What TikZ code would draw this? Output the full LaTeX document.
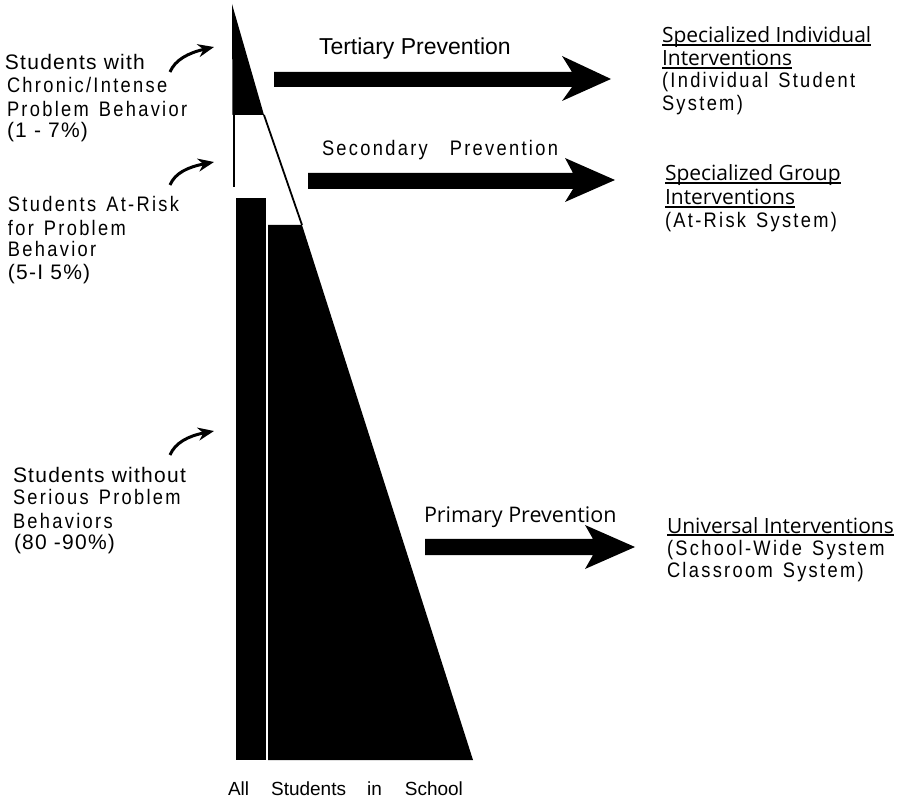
\documentclass[tikz,border=0pt]{standalone}
\usepackage{fontspec}
\usetikzlibrary{arrows.meta}
\setmainfont{Liberation Sans}
\newfontfamily\regf[LetterSpace=6]{Liberation Sans}
\newfontfamily\plainf{Liberation Sans}
\newfontfamily\narf[FakeStretch=0.87,LetterSpace=11]{Liberation Sans}
\newfontfamily\humf{Open Sans}
\newcommand\wg{\hspace{10pt}}
\begin{document}
\begin{tikzpicture}[x=1pt,y=-1pt,
  txt/.style={anchor=base west,inner sep=0pt,outer sep=0pt},
  regtxt/.style={txt,font=\regf\fontsize{21}{21}\selectfont},
  nartxt/.style={txt,font=\narf\fontsize{21}{21}\selectfont},
  humtxt/.style={txt,font=\humf\fontsize{21}{21}\selectfont},
  curv/.style={line width=3pt,-{Stealth[length=16pt,width=13pt]}},
  uline/.style={line width=1.1pt},
  blockarrow/.style={fill=black}]
\useasboundingbox (0,0) rectangle (911,799);
% pyramid
\fill (232,4) -- (264,115) -- (232.5,115) -- cycle;
\draw[line width=2pt] (234,115) -- (234,187);
\draw[line width=1.8pt] (264,115) -- (302,225);
\fill (236,198) rectangle (266,760);
\fill (268,225) -- (302,225) -- (473,760) -- (268,760) -- cycle;
% block arrows
\fill[blockarrow] (274,72) -- (572,72) -- (562,56) -- (611,79) -- (562,101) -- (572,87) -- (274,87) -- cycle;
\fill[blockarrow] (308,173) -- (573,173) -- (565,158) -- (615,180) -- (565,202) -- (573,189) -- (308,189) -- cycle;
\fill[blockarrow] (425,539) -- (593,539) -- (585,525) -- (635,547) -- (585,569) -- (593,555) -- (425,555) -- cycle;
% arrow labels
\node[txt,font=\plainf\fontsize{23}{23}\selectfont] (ter) at (319,55) {Tertiary Prevention};
\node[nartxt] (sec) at (322,156) {Secondary\hspace{22pt}Prevention};
\node[humtxt,font=\humf\fontsize{21.5}{21.5}\selectfont] (pri) at (424,522) {Primary Prevention};
% left labels
\node[regtxt] (c1) at (5,70) {Students with};
\node[nartxt] (c2) at (7,93) {Chronic/Intense};
\node[nartxt] (c3) at (7,117) {Problem\wg Behavior};
\node[regtxt] (c4) at (7,138) {(1 - 7\%)};
\node[nartxt] (r1) at (8,212) {Students\wg At-Risk};
\node[nartxt] (r2) at (8,236) {for\wg Problem};
\node[nartxt] (r3) at (8,257) {Behavior};
\node[regtxt] (r4) at (8,280) {(5-I 5\%)};
\node[regtxt] (w1) at (13,483) {Students without};
\node[nartxt] (w2) at (13,505) {Serious\wg Problem};
\node[nartxt] (w3) at (13,529) {Behaviors};
\node[regtxt] (w4) at (14,550) {(80 -90\%)};
% curved pointers
\coordinate (t1) at (170,72);  \coordinate (h1) at (214,47);
\coordinate (t2) at (170,185); \coordinate (h2) at (214,162);
\coordinate (t3) at (170,455); \coordinate (h3) at (214,431);
\draw[curv] (t1) .. controls (175,60) and (188,53) .. (h1);
\draw[curv] (t2) .. controls (175,173) and (188,167) .. (h2);
\draw[curv] (t3) .. controls (175,443) and (188,436) .. (h3);
% right labels
\node[humtxt] (s1) at (662,43) {Specialized Individual};
\node[humtxt] (s2) at (662,66) {Interventions};
\node[nartxt] (s3) at (662,88) {(Individual\wg Student};
\node[nartxt] (s4) at (662,111) {System)};
\node[humtxt] (g1) at (665,181) {Specialized Group};
\node[humtxt] (g2) at (665,205) {Interventions};
\node[nartxt] (g3) at (665,228) {(At-Risk\wg System)};
\node[humtxt] (u1) at (667,533) {Universal Interventions};
\node[nartxt] (u2) at (667,555) {(School-Wide\wg System};
\node[nartxt] (u3) at (667,577) {Classroom\wg System)};
\foreach \n in {s1,s2,g1,g2,u1}{
  \draw[uline] ([yshift=-2pt]\n.base west) -- ([yshift=-2pt]\n.base east);
}
% bottom label
\node[txt,font=\plainf\fontsize{19}{19}\selectfont] (all) at (228,795) {All\hspace{22pt}Students\hspace{21pt}in\hspace{23pt}School};
\end{tikzpicture}
\end{document}
